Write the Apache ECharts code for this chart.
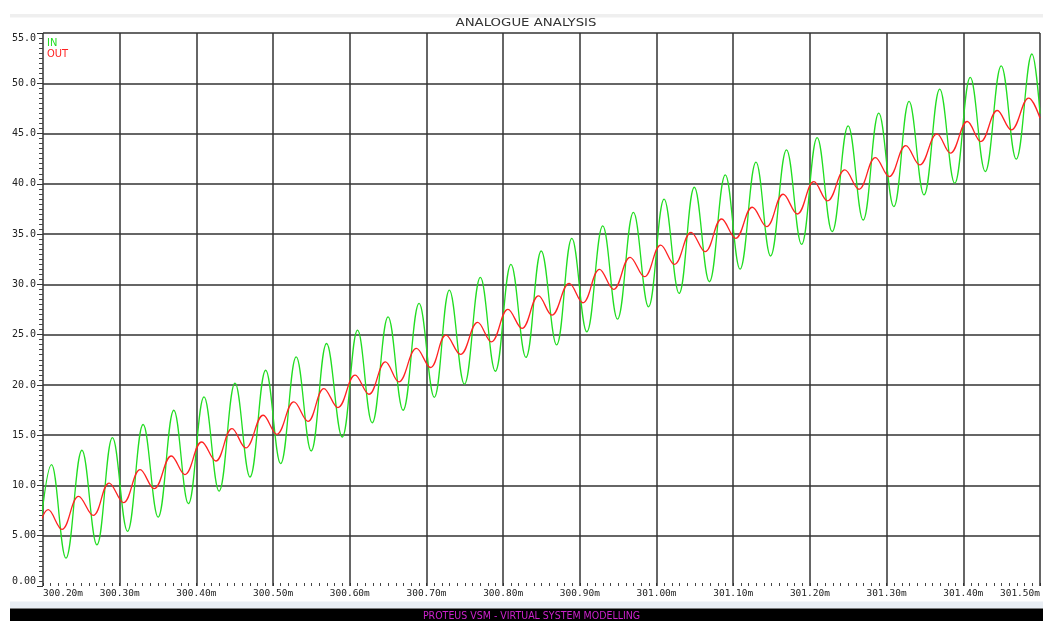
<!DOCTYPE html>
<html>
<head>
<meta charset="utf-8">
<script src="https://cdn.jsdelivr.net/npm/echarts@6/dist/echarts.min.js"></script>
<style>
html,body{margin:0;padding:0;background:#fff;}
#chart{width:1043px;height:621px;}
</style>
</head>
<body>
<div id="chart"></div>
<script>
// ---- data (time in ms, volts) ----
var titleText = 'ANALOGUE ANALYSIS';
var footerText = 'PROTEUS VSM - VIRTUAL SYSTEM MODELLING';
var seriesNames = ['IN', 'OUT'];

var inTimes = [300.1909, 300.2112, 300.2299, 300.2508, 300.2703, 300.2906, 300.3102, 300.3306, 300.3501, 300.3706, 300.3896, 300.4100, 300.4296, 300.4504, 300.4699, 300.4904, 300.5099, 300.5302, 300.5497, 300.5698, 300.5901, 300.6102, 300.6292, 300.6500, 300.6695, 300.6904, 300.7102, 300.7299, 300.7495, 300.7703, 300.7898, 300.8102, 300.8297, 300.8497, 300.8697, 300.8896, 300.9091, 300.9299, 300.9491, 300.9699, 300.9895, 301.0099, 301.0294, 301.0493, 301.0689, 301.0897, 301.1089, 301.1297, 301.1487, 301.1695, 301.1891, 301.2095, 301.2290, 301.2499, 301.2694, 301.2898, 301.3094, 301.3293, 301.3488, 301.3693, 301.3888, 301.4091, 301.4286, 301.4495, 301.4690, 301.4895, 301.5000];
var inValues = [1.37, 12.07, 2.77, 13.50, 4.10, 14.76, 5.43, 16.06, 6.85, 17.48, 8.19, 18.80, 9.44, 20.17, 10.84, 21.46, 12.17, 22.79, 13.43, 24.12, 14.82, 25.45, 16.22, 26.77, 17.48, 28.11, 18.77, 29.43, 20.07, 30.70, 21.36, 31.99, 22.73, 33.32, 23.98, 34.58, 25.28, 35.81, 26.54, 37.15, 27.77, 38.47, 29.10, 39.66, 30.26, 40.89, 31.52, 42.15, 32.82, 43.38, 33.98, 44.60, 35.24, 45.77, 36.40, 47.03, 37.73, 48.19, 38.90, 49.42, 40.06, 50.58, 41.22, 51.74, 42.45, 52.91, 47.0];

var outTimes = [300.1909, 300.2069, 300.2247, 300.2464, 300.2655, 300.2863, 300.3049, 300.3267, 300.3449, 300.3674, 300.3849, 300.4070, 300.4253, 300.4465, 300.4643, 300.4872, 300.5047, 300.5272, 300.5454, 300.5663, 300.5845, 300.6070, 300.6249, 300.6466, 300.6639, 300.6870, 300.7052, 300.7255, 300.7443, 300.7668, 300.7846, 300.8063, 300.8245, 300.8462, 300.8635, 300.8862, 300.9039, 300.9257, 300.9439, 300.9656, 300.9842, 301.0055, 301.0233, 301.0451, 301.0633, 301.0849, 301.1031, 301.1249, 301.1435, 301.1652, 301.1835, 301.2052, 301.2229, 301.2456, 301.2638, 301.2854, 301.3033, 301.3250, 301.3432, 301.3657, 301.3831, 301.4052, 301.4227, 301.4443, 301.4625, 301.4852, 301.5000];
var outValues = [4.86, 7.59, 5.63, 8.91, 7.02, 10.24, 8.29, 11.57, 9.68, 12.93, 11.08, 14.32, 12.43, 15.66, 13.73, 16.98, 15.09, 18.31, 16.38, 19.64, 17.75, 20.97, 19.07, 22.29, 20.30, 23.63, 21.73, 24.95, 23.03, 26.22, 24.28, 27.51, 25.62, 28.86, 26.94, 30.10, 28.17, 31.49, 29.50, 32.69, 30.76, 33.91, 31.99, 35.18, 33.25, 36.50, 34.58, 37.67, 35.74, 38.96, 37.00, 40.22, 38.30, 41.38, 39.46, 42.61, 40.72, 43.80, 41.88, 44.97, 43.05, 46.20, 44.20, 47.29, 45.37, 48.53, 46.53];

var xMin = 300.2, xMax = 301.5, xStep = 0.1;
var yMin = 0, yMax = 55, yStep = 5;

function zip(a, b) { var r = []; for (var i = 0; i < a.length; i++) r.push([a[i], b[i]]); return r; }

var chart = echarts.init(document.getElementById('chart'), null, {renderer: 'canvas'});
var gridColor = '#333333';
var labelFont = 'DejaVu Sans Mono, monospace';

chart.setOption({
  animation: false,
  backgroundColor: '#ffffff',
  grid: {left: 43, right: 1, top: 33, bottom: 35, containLabel: false},
  legend: {
    orient: 'vertical', left: 37, top: 33, icon: 'none',
    itemWidth: 0, itemHeight: 11, itemGap: 0, selectedMode: false,
    textStyle: {fontFamily: 'Liberation Sans Narrow, DejaVu Sans Condensed, DejaVu Sans Mono, sans-serif', fontSize: 11, padding: 0},
    data: [
      {name: seriesNames[0], textStyle: {color: '#22dd22'}},
      {name: seriesNames[1], textStyle: {color: '#ff2222'}}
    ]
  },
  xAxis: {
    type: 'value', min: xMin, max: xMax, interval: xStep,
    axisLine: {show: false},
    axisTick: {show: true, inside: true, length: 3, lineStyle: {color: gridColor}},
    minorTick: {show: true, splitNumber: 10, length: 3, lineStyle: {color: '#444'}},
    splitLine: {show: true, lineStyle: {color: gridColor, width: 1.5}},
    axisLabel: {
      margin: 3, color: '#222', fontFamily: labelFont, fontSize: 9.5,
      alignMinLabel: 'left', alignMaxLabel: 'right',
      formatter: function (v) { return v.toFixed(2) + 'm'; }
    }
  },
  yAxis: {
    type: 'value', min: yMin, max: yMax, interval: yStep,
    axisLine: {show: false},
    axisTick: {show: true, length: 6, lineStyle: {color: gridColor}},
    minorTick: {show: true, splitNumber: 10, length: 4, lineStyle: {color: '#444'}},
    splitLine: {show: true, showMinLine: false, lineStyle: {color: gridColor, width: 1.5}},
    axisLabel: {
      margin: 7, color: '#222', fontFamily: labelFont, fontSize: 10,
      verticalAlignMaxLabel: 'top', verticalAlignMinLabel: 'bottom',
      formatter: function (v) { return v >= 10 ? v.toFixed(1) : v.toFixed(2); }
    }
  },
  series: [
    {
      name: seriesNames[0], type: 'line', data: zip(inTimes, inValues),
      showSymbol: false, smooth: 0.4, clip: false,
      lineStyle: {color: '#22dd22', width: 1.3}, itemStyle: {color: '#22dd22'}
    },
    {
      name: seriesNames[1], type: 'line', data: zip(outTimes, outValues),
      showSymbol: false, smooth: 0.4, clip: false,
      lineStyle: {color: '#ff2222', width: 1.3}, itemStyle: {color: '#ff2222'}
    }
  ],
  graphic: [
    {type: 'rect', left: 10, top: 14, shape: {width: 1033, height: 3.5}, style: {fill: '#efefef'}, silent: true},
    {type: 'text', x: 526, y: 23.5, scaleX: 1.33, scaleY: 1,
      style: {text: titleText, textAlign: 'center', textVerticalAlign: 'middle', font: '10px "DejaVu Sans", sans-serif', fill: '#333'}, silent: true},
    {type: 'rect', shape: {x: 10, y: 601.5, width: 1033, height: 7}, style: {fill: '#e9eef4'}, silent: true},
    {type: 'rect', shape: {x: 10, y: 608.5, width: 1033, height: 13}, style: {fill: '#000000'}, silent: true},
    {type: 'text', x: 531.5, y: 616, scaleX: 0.9, scaleY: 1,
      style: {text: footerText, textAlign: 'center', textVerticalAlign: 'middle', font: '10.5px "DejaVu Sans", sans-serif', fill: '#cc22cc'}, silent: true}
  ]
});
</script>
</body>
</html>
